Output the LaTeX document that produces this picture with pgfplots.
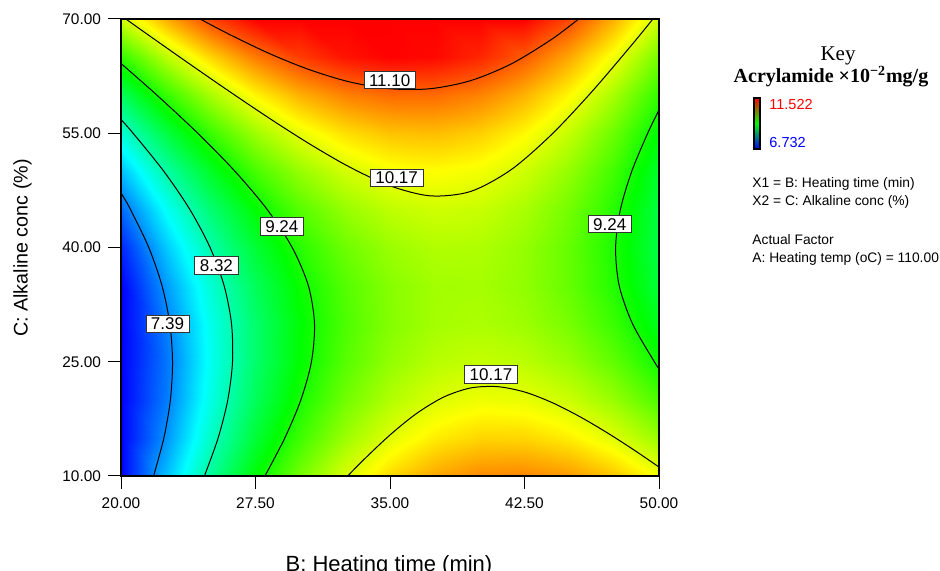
\documentclass[border=0pt]{standalone}
\usepackage{fontspec}
\setmainfont{Liberation Sans}
\newfontfamily\seriffont{Liberation Serif}
\usepackage{pgfplots}
\pgfplotsset{compat=1.18}
\usepackage{pgfplotstable}

\pgfplotstableread{
B C z
20 10 6.720
22.5 10 7.628
25 10 8.424
27.5 10 9.110
30 10 9.685
32.5 10 10.148
35 10 10.500
37.5 10 10.741
40 10 10.871
42.5 10 10.890
45 10 10.798
47.5 10 10.594
50 10 10.280
20 15 6.540
22.5 15 7.426
25 15 8.202
27.5 15 8.866
30 15 9.419
32.5 15 9.860
35 15 10.191
37.5 15 10.410
40 15 10.519
42.5 15 10.516
45 15 10.403
47.5 15 10.178
50 15 9.842
20 20 6.444
22.5 20 7.309
25 20 8.061
27.5 20 8.703
30 20 9.234
32.5 20 9.654
35 20 9.962
37.5 20 10.160
40 20 10.246
42.5 20 10.221
45 20 10.085
47.5 20 9.838
50 20 9.480
20 25 6.433
22.5 25 7.274
25 25 8.004
27.5 25 8.623
30 25 9.131
32.5 25 9.528
35 25 9.814
37.5 25 9.988
40 25 10.052
42.5 25 10.004
45 25 9.846
47.5 25 9.576
50 25 9.195
20 30 6.504
22.5 30 7.322
25 30 8.029
27.5 30 8.625
30 30 9.110
32.5 30 9.483
35 30 9.746
37.5 30 9.897
40 30 9.937
42.5 30 9.866
45 30 9.684
47.5 30 9.391
50 30 8.987
20 35 6.660
22.5 35 7.454
25 35 8.137
27.5 35 8.709
30 35 9.170
32.5 35 9.519
35 35 9.758
37.5 35 9.885
40 35 9.901
42.5 35 9.806
45 35 9.600
47.5 35 9.283
50 35 8.855
20 40 6.900
22.5 40 7.669
25 40 8.328
27.5 40 8.875
30 40 9.311
32.5 40 9.636
35 40 9.850
37.5 40 9.953
40 40 9.945
42.5 40 9.825
45 40 9.594
47.5 40 9.253
50 40 8.800
20 45 7.224
22.5 45 7.968
25 45 8.601
27.5 45 9.123
30 45 9.534
32.5 45 9.834
35 45 10.023
37.5 45 10.100
40 45 10.067
42.5 45 9.922
45 45 9.666
47.5 45 9.300
50 45 8.822
20 50 7.631
22.5 50 8.350
25 50 8.957
27.5 50 9.453
30 50 9.839
32.5 50 10.113
35 50 10.276
37.5 50 10.327
40 50 10.268
42.5 50 10.098
45 50 9.816
47.5 50 9.424
50 50 8.920
20 55 8.122
22.5 55 8.815
25 55 9.396
27.5 55 9.866
30 55 10.224
32.5 55 10.472
35 55 10.609
37.5 55 10.634
40 55 10.549
42.5 55 10.352
45 55 10.044
47.5 55 9.625
50 55 9.095
20 60 8.698
22.5 60 9.363
25 60 9.917
27.5 60 10.360
30 60 10.692
32.5 60 10.913
35 60 11.022
37.5 60 11.021
40 60 10.908
42.5 60 10.684
45 60 10.350
47.5 60 9.904
50 60 9.347
20 65 9.357
22.5 65 9.995
25 65 10.521
27.5 65 10.937
30 65 11.241
32.5 65 11.434
35 65 11.516
37.5 65 11.487
40 65 11.347
42.5 65 11.096
45 65 10.733
47.5 65 10.260
50 65 9.675
20 70 10.100
22.5 70 10.709
25 70 11.208
27.5 70 11.595
30 70 11.871
32.5 70 12.036
35 70 12.090
37.5 70 12.033
40 70 11.865
42.5 70 11.585
45 70 11.194
47.5 70 10.693
50 70 10.080
}\surfdata

\begin{document}
\begin{tikzpicture}[x=1pt,y=1pt,
  lab/.style={draw=black!80, line width=0.4pt, fill=white, inner xsep=2.5pt, inner ysep=1.3pt,
    font=\fontsize{8.5}{9}\selectfont, text height=6.1pt, text depth=0pt}]
\begin{axis}[
  scale only axis, width=269pt, height=228.5pt,
  xmin=20, xmax=50, ymin=10, ymax=70,
  xtick={20,27.5,35,42.5,50}, ytick={10,25,40,55,70},
  tick align=outside, tick pos=left,
  major tick length=6.5pt,
  tick style={black, line width=0.5pt},
  axis line style={line width=0.6pt},
  tick label style={font=\fontsize{7.7}{9}\selectfont},
  xticklabel style={yshift=-0.8pt},
  /pgf/number format/.cd, fixed, fixed zerofill, precision=2, assume math mode=true,
  /pgfplots/.cd,
  colormap={dx}{rgb255=(0,0,255) rgb255=(0,255,255) rgb255=(0,255,0) rgb255=(255,255,0) rgb255=(255,0,0)},
  point meta min=6.732, point meta max=11.522,
  axis on top,
]
\addplot[surf, shader=interp, mesh/cols=13, point meta={max(6.732,min(11.522,\thisrow{z}))}]
  table[x=B,y=C] {\surfdata};

\addplot[black, line width=0.5pt, smooth, tension=0.5] coordinates {
(21.815,10) (22.391,15) (22.754,20) (22.873,25) (22.723,30) (22.284,35) (21.549,40) (20.528,45) (20,47.17)};
\addplot[black, line width=0.5pt, smooth, tension=0.5] coordinates {
(24.651,10) (25.417,15) (25.956,20) (26.219,25) (26.162,30) (25.748,35) (24.968,40) (23.836,45) (22.388,50) (20.675,55) (20,56.8)};
\addplot[black, line width=0.5pt, smooth, tension=0.5] coordinates {
(28.025,10) (29.136,15) (30.031,20) (30.62,25) (30.79,30) (30.446,35) (29.545,40) (28.147,45) (26.356,50) (24.281,55) (22.004,60) (20,64.16)};
\addplot[black, line width=0.5pt, smooth, tension=0.5] coordinates {
(50,24.11) (49.74,25) (48.52,30) (47.78,35) (47.58,40) (47.85,45) (48.48,50) (49.37,55) (50,58.06)};
\addplot[black, line width=0.5pt, smooth, tension=0.5] coordinates {
(32.64,10) (33.5,12.06) (35,15.39) (36.5,18.24) (38,20.37) (39.5,21.56) (41,21.73) (42.5,21.03) (44,19.68) (45.5,17.9) (47,15.84) (48.5,13.58) (50,11.18)};
\addplot[black, line width=0.5pt, smooth, tension=0.5] coordinates {
(20.27,70) (21.5,67.94) (23.75,64.22) (26,60.56) (28.25,57.0) (30.5,53.62) (32.75,50.56) (35,48.1) (37.25,46.78) (39.5,47.36) (41.75,50.21) (44,54.81) (46.25,60.44) (48.5,66.65) (49.66,70)};
\addplot[black, line width=0.5pt, smooth, tension=0.5] coordinates {
(24.41,70) (26,68.03) (28.25,65.49) (30.5,63.35) (32.75,61.74) (35,60.84) (37.25,60.85) (39.5,61.91) (41.75,64.09) (44,67.31) (45.52,70)};

\node[lab] at (axis cs:34.98,62.0) {11.10};
\node[lab] at (axis cs:35.37,49.14) {10.17};
\node[lab] at (axis cs:28.97,42.77) {9.24};
\node[lab] at (axis cs:25.32,37.65) {8.32};
\node[lab] at (axis cs:22.59,29.97) {7.39};
\node[lab] at (axis cs:47.25,43.08) {9.24};
\node[lab] at (axis cs:40.63,23.34) {10.17};
\end{axis}

% axis titles
\node[rotate=90, font=\fontsize{9.85}{12}\selectfont] at (-49.25,114) {C: Alkaline conc (\%)};
\node[anchor=base, font=\fontsize{11}{13}\selectfont] at (134,-48) {B: Heating time (min)};

% key
\node[anchor=base, font=\seriffont\fontsize{10.5}{12}\selectfont] at (358.5,207.5) {Key};
\node[anchor=base, font=\seriffont\bfseries\fontsize{10}{12}\selectfont] at (355,196.65) {Acrylamide ×10\textsuperscript{−2}mg/g};
\shade[top color=red, bottom color=blue, middle color=green] (316.5,163.5) rectangle (319.5,189);
\draw[line width=0.6pt] (316.5,163.5) rectangle (319.5,189);
\node[anchor=west, inner sep=0pt, text=red, font=\fontsize{7.25}{8}\selectfont] at (324,185.5) {11.522};
\node[anchor=west, inner sep=0pt, text=blue, font=\fontsize{7.25}{8}\selectfont] at (324,166.5) {6.732};
\begin{scope}[every node/.style={anchor=base west, inner sep=0pt, font=\fontsize{6.9}{8}\selectfont}]
\node at (315.5,144) {X1 = B: Heating time (min)};
\node at (315.5,135) {X2 = C: Alkaline conc (\%)};
\node at (315.5,115.5) {Actual Factor};
\node at (315.5,106.5) {A: Heating temp (oC) = 110.00};
\end{scope}

\pgfresetboundingbox
\path[use as bounding box] (-60.5,-47.5) rectangle (409.5,238);
\end{tikzpicture}
\end{document}
